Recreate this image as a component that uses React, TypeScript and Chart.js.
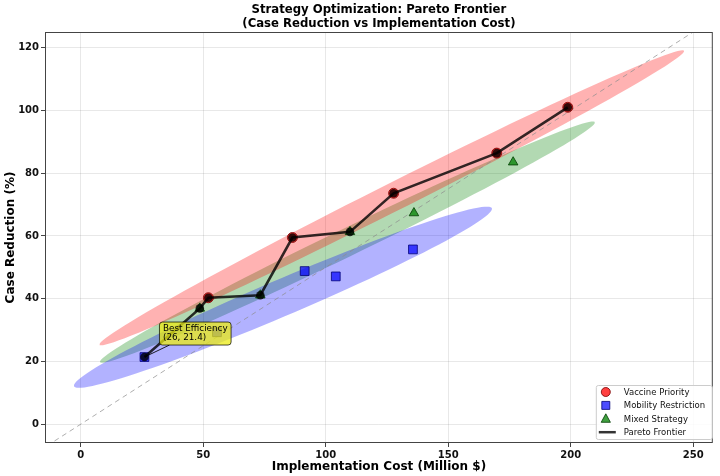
import React, { useEffect, useRef } from 'react';
import { Chart, registerables } from 'chart.js';

Chart.register(...registerables);

// Strategy outcomes: implementation cost (million $) and case reduction (%)
const strategyNames = ['Vaccine Priority', 'Mobility Restriction', 'Mixed Strategy'];
const vaccineCost = [52.1, 86.4, 127.7, 169.8, 198.8];
const vaccineReduction = [40.3, 59.5, 73.6, 86.4, 101.0];
const mobilityCost = [26.0, 55.6, 91.4, 104.1, 135.6];
const mobilityReduction = [21.4, 29.3, 48.8, 47.1, 55.7];
const mixedCost = [48.6, 73.3, 109.9, 136.0, 176.5];
const mixedReduction = [36.9, 41.1, 61.3, 67.3, 83.5];

// Dashed reference line end points
const referenceCost = [-20, 260];
const referenceReduction = [-10, 130];

const costTicks = [0, 50, 100, 150, 200, 250];
const reductionTicks = [0, 20, 40, 60, 80, 100, 120];

const titleLines = ['Strategy Optimization: Pareto Frontier', '(Case Reduction vs Implementation Cost)'];
const bestLabel = 'Best Efficiency';

const FONT = "'DejaVu Sans', sans-serif";

type Pt = { x: number; y: number };

const zip = (xs: number[], ys: number[]): Pt[] => xs.map((x, i) => ({ x, y: ys[i] }));

// 2-sigma covariance ellipse outline (closed polygon in data units)
function confidenceEllipse(xs: number[], ys: number[], nStd = 2, steps = 120): Pt[] {
  const n = xs.length;
  const mx = xs.reduce((s, v) => s + v, 0) / n;
  const my = ys.reduce((s, v) => s + v, 0) / n;
  let sxx = 0, syy = 0, sxy = 0;
  for (let i = 0; i < n; i++) {
    const dx = xs[i] - mx, dy = ys[i] - my;
    sxx += dx * dx; syy += dy * dy; sxy += dx * dy;
  }
  sxx /= n - 1; syy /= n - 1; sxy /= n - 1;
  const p = sxy / Math.sqrt(sxx * syy);
  const rx = Math.sqrt(1 + p), ry = Math.sqrt(1 - p);
  const sx = Math.sqrt(sxx) * nStd, sy = Math.sqrt(syy) * nStd;
  const out: Pt[] = [];
  for (let i = 0; i <= steps; i++) {
    const t = (2 * Math.PI * i) / steps;
    const ux = rx * Math.cos(t), uy = ry * Math.sin(t);
    const qx = (ux - uy) / Math.SQRT2, qy = (ux + uy) / Math.SQRT2;
    out.push({ x: mx + qx * sx, y: my + qy * sy });
  }
  return out;
}

// Non-dominated points: cheaper cost never gives more reduction
function paretoFrontier(points: Pt[]): Pt[] {
  const sorted = [...points].sort((a, b) => a.x - b.x);
  const front: Pt[] = [];
  let best = -Infinity;
  for (const p of sorted) {
    if (p.y > best) { front.push(p); best = p.y; }
  }
  return front;
}

const vaccinePts = zip(vaccineCost, vaccineReduction);
const mobilityPts = zip(mobilityCost, mobilityReduction);
const mixedPts = zip(mixedCost, mixedReduction);
const frontier = paretoFrontier([...vaccinePts, ...mobilityPts, ...mixedPts]);

const legendItems = [
  { label: strategyNames[0], style: 'circle', fill: 'rgba(255,0,0,0.75)', stroke: 'rgba(120,0,0,0.8)' },
  { label: strategyNames[1], style: 'rect', fill: 'rgba(0,0,255,0.7)', stroke: 'rgba(0,0,120,0.8)' },
  { label: strategyNames[2], style: 'triangle', fill: 'rgba(0,128,0,0.75)', stroke: 'rgba(0,60,0,0.8)' },
  { label: 'Pareto Frontier', style: 'line', fill: 'rgba(0,0,0,0.8)', stroke: 'rgba(0,0,0,0.8)' },
];

function roundRect(ctx: CanvasRenderingContext2D, x: number, y: number, w: number, h: number, r: number) {
  ctx.beginPath();
  ctx.moveTo(x + r, y);
  ctx.lineTo(x + w - r, y);
  ctx.quadraticCurveTo(x + w, y, x + w, y + r);
  ctx.lineTo(x + w, y + h - r);
  ctx.quadraticCurveTo(x + w, y + h, x + w - r, y + h);
  ctx.lineTo(x + r, y + h);
  ctx.quadraticCurveTo(x, y + h, x, y + h - r);
  ctx.lineTo(x, y + r);
  ctx.quadraticCurveTo(x, y, x + r, y);
  ctx.closePath();
}

const decorations = {
  id: 'decorations',
  afterDatasetsDraw(chart: any) {
    const { ctx, chartArea: a, scales } = chart;
    const xs = scales.x, ys = scales.y;
    ctx.save();

    // axes frame
    ctx.strokeStyle = '#444';
    ctx.lineWidth = 1;
    ctx.strokeRect(a.left + 0.5, a.top + 0.5, a.right - a.left - 1, a.bottom - a.top - 1);

    // title
    ctx.fillStyle = '#000';
    ctx.font = `bold 11.7px ${FONT}`;
    ctx.textAlign = 'center';
    ctx.textBaseline = 'middle';
    const cx = (a.left + a.right) / 2;
    ctx.fillText(titleLines[0], cx, 10);
    ctx.fillText(titleLines[1], cx, 23.5);

    // annotation on the cheapest frontier point
    const best = frontier[0];
    const px = xs.getPixelForValue(best.x);
    const py = ys.getPixelForValue(best.y);
    const line2 = `(${Math.round(best.x * 10) / 10}, ${Math.round(best.y * 10) / 10})`;
    ctx.font = `8.8px ${FONT}`;
    const tw = Math.max(ctx.measureText(bestLabel).width, ctx.measureText(line2).width);
    const bx = px + 15, by = py - 35, bw = tw + 7, bh = 23;
    ctx.strokeStyle = 'rgba(0,0,0,0.85)';
    ctx.lineWidth = 1;
    ctx.beginPath();
    ctx.moveTo(bx + 10, by + bh);
    ctx.lineTo(px, py);
    ctx.stroke();
    roundRect(ctx, bx, by, bw, bh, 3);
    ctx.fillStyle = 'rgba(235,235,20,0.75)';
    ctx.fill();
    ctx.strokeStyle = 'rgba(0,0,0,0.7)';
    ctx.stroke();
    ctx.fillStyle = '#000';
    ctx.textAlign = 'left';
    ctx.fillText(bestLabel, bx + 3.5, by + 6.5);
    ctx.fillText(line2, bx + 3.5, by + 16);

    // legend
    const lw = 116, lh = 54;
    const lx = a.right - 1 - lw, ly = a.bottom - 4 - lh;
    roundRect(ctx, lx + 0.5, ly + 0.5, lw, lh, 2);
    ctx.fillStyle = 'rgba(255,255,255,0.85)';
    ctx.fill();
    ctx.strokeStyle = '#ccc';
    ctx.stroke();
    ctx.font = `8.5px ${FONT}`;
    ctx.textBaseline = 'middle';
    legendItems.forEach((it, i) => {
      const yy = ly + 7 + i * 13.4;
      const mx = lx + 10;
      ctx.fillStyle = it.fill;
      ctx.strokeStyle = it.stroke;
      ctx.lineWidth = 1;
      if (it.style === 'circle') {
        ctx.beginPath(); ctx.arc(mx, yy, 4.5, 0, Math.PI * 2); ctx.fill(); ctx.stroke();
      } else if (it.style === 'rect') {
        ctx.beginPath(); ctx.rect(mx - 4, yy - 4, 8, 8); ctx.fill(); ctx.stroke();
      } else if (it.style === 'triangle') {
        ctx.beginPath(); ctx.moveTo(mx, yy - 5); ctx.lineTo(mx + 4.6, yy + 3.5); ctx.lineTo(mx - 4.6, yy + 3.5); ctx.closePath(); ctx.fill(); ctx.stroke();
      } else {
        ctx.lineWidth = 2.5;
        ctx.beginPath(); ctx.moveTo(mx - 7, yy); ctx.lineTo(mx + 10, yy); ctx.stroke();
      }
      ctx.fillStyle = '#111';
      ctx.fillText(it.label, lx + 28, yy + 0.5);
    });
    ctx.restore();
  },
};

export default function App() {
  const canvasRef = useRef<HTMLCanvasElement | null>(null);

  useEffect(() => {
    if (!canvasRef.current) return;
    Chart.defaults.font.family = FONT;
    const ellipse = (xs: number[], ys: number[], color: string, label: string) => ({
      label,
      data: confidenceEllipse(xs, ys),
      showLine: true,
      fill: 'shape',
      backgroundColor: color,
      borderWidth: 0,
      borderColor: 'rgba(0,0,0,0)',
      pointRadius: 0,
      tension: 0,
      order: 10,
    });
    const chart = new Chart(canvasRef.current, {
      type: 'scatter',
      data: {
        datasets: [
          ellipse(vaccineCost, vaccineReduction, 'rgba(255,0,0,0.3)', 'vaccine-ellipse'),
          ellipse(mobilityCost, mobilityReduction, 'rgba(0,0,255,0.3)', 'mobility-ellipse'),
          ellipse(mixedCost, mixedReduction, 'rgba(0,128,0,0.3)', 'mixed-ellipse'),
          {
            label: 'reference',
            data: zip(referenceCost, referenceReduction),
            showLine: true,
            borderColor: 'rgba(140,140,140,0.7)',
            borderWidth: 1,
            borderDash: [5, 4],
            pointRadius: 0,
            order: 8,
          },
          {
            label: strategyNames[0],
            data: vaccinePts,
            pointStyle: 'circle',
            pointRadius: 5,
            backgroundColor: 'rgba(255,0,0,0.75)',
            borderColor: 'rgba(120,0,0,0.8)',
            borderWidth: 1,
            order: 5,
          },
          {
            label: strategyNames[1],
            data: mobilityPts,
            pointStyle: 'rect',
            pointRadius: 6.2,
            backgroundColor: 'rgba(0,0,255,0.7)',
            borderColor: 'rgba(0,0,120,0.8)',
            borderWidth: 1,
            order: 5,
          },
          {
            label: strategyNames[2],
            data: mixedPts,
            pointStyle: 'triangle',
            pointRadius: 5.5,
            backgroundColor: 'rgba(0,128,0,0.75)',
            borderColor: 'rgba(0,60,0,0.8)',
            borderWidth: 1,
            order: 5,
          },
          {
            label: 'Pareto Frontier',
            data: frontier,
            showLine: true,
            borderColor: 'rgba(0,0,0,0.8)',
            borderWidth: 2.6,
            pointStyle: 'circle',
            pointRadius: 4.3,
            pointBackgroundColor: 'rgba(0,0,0,0.8)',
            pointBorderColor: 'rgba(0,0,0,0.8)',
            pointBorderWidth: 0,
            order: 1,
          },
        ] as any,
      },
      options: {
        animation: false,
        responsive: true,
        maintainAspectRatio: false,
        layout: { padding: { top: 32, right: 3, left: 0, bottom: 0 } },
        plugins: {
          legend: { display: false },
          tooltip: { enabled: false },
          title: { display: false },
        },
        scales: {
          x: {
            type: 'linear',
            min: -14.6,
            max: 258,
            afterFit: (s: any) => { s.height = 33; },
            afterBuildTicks: (s: any) => { s.ticks = costTicks.map((v) => ({ value: v })); },
            grid: { color: 'rgba(0,0,0,0.09)', tickColor: '#444', tickLength: 4, drawTicks: true },
            border: { display: false },
            ticks: { font: { size: 10, weight: 'bold' }, color: '#111', padding: 2, maxRotation: 0 },
            title: {
              display: true,
              text: 'Implementation Cost (Million $)',
              font: { size: 12, weight: 'bold' },
              color: '#000',
              padding: { top: 0, bottom: 2 },
            },
          },
          y: {
            type: 'linear',
            min: -6,
            max: 125,
            afterFit: (s: any) => { s.width = 45; },
            afterBuildTicks: (s: any) => { s.ticks = reductionTicks.map((v) => ({ value: v })); },
            grid: { color: 'rgba(0,0,0,0.09)', tickColor: '#444', tickLength: 4, drawTicks: true },
            border: { display: false },
            ticks: { font: { size: 10, weight: 'bold' }, color: '#111', padding: 2 },
            title: {
              display: true,
              text: 'Case Reduction (%)',
              font: { size: 12, weight: 'bold' },
              color: '#000',
              padding: { top: 4, bottom: 0 },
            },
          },
        },
      } as any,
      plugins: [decorations],
    });
    return () => chart.destroy();
  }, []);

  return (
    <div style={{ position: 'absolute', left: 0, top: 0, width: 720, height: 476, background: '#fff' }}>
      <canvas ref={canvasRef} />
    </div>
  );
}
